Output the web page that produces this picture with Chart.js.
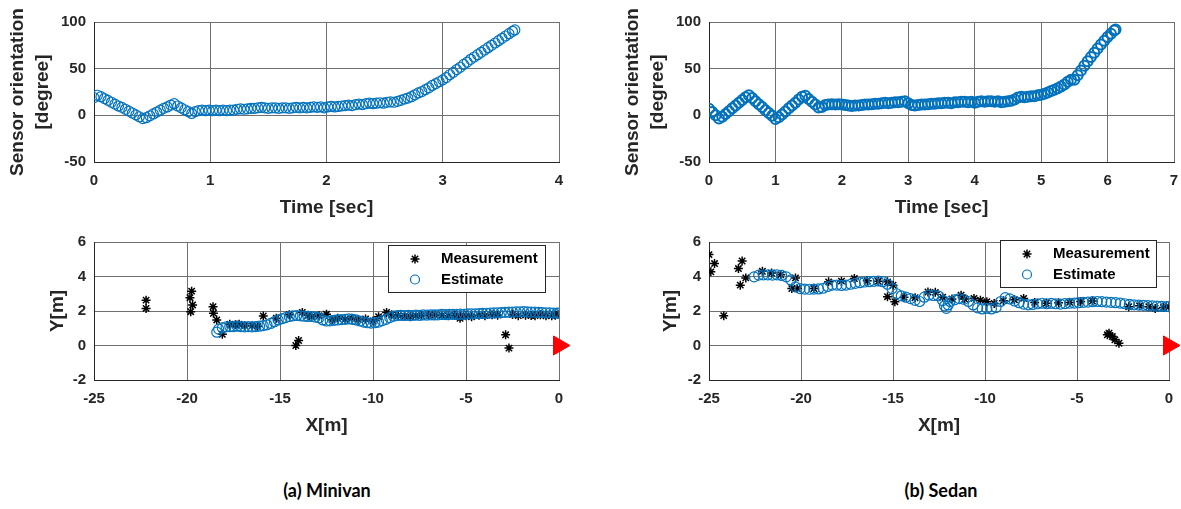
<!DOCTYPE html>
<html>
<head>
<meta charset="utf-8">
<script src="https://cdn.jsdelivr.net/npm/chart.js@4.4.0/dist/chart.umd.min.js"></script>
<style>
  body { margin: 0; background: #fff; width: 1181px; height: 509px; position: relative; overflow: hidden; }
  canvas { position: absolute; }
  .caption { position: absolute; top: 479px; width: 240px; text-align: center; font: bold 18px Lato, sans-serif; color: #000; }
</style>
</head>
<body>
<canvas id="minivanOrientChart" width="590" height="230" style="left:0;top:0"></canvas>
<canvas id="sedanOrientChart" width="566" height="230" style="left:615px;top:0"></canvas>
<canvas id="minivanPathChart" width="590" height="215" style="left:0;top:230px"></canvas>
<canvas id="sedanPathChart" width="566" height="215" style="left:615px;top:230px"></canvas>
<div class="caption" style="left:207px">(a) Minivan</div>
<div class="caption" style="left:821px">(b) Sedan</div>
<script>
// ---- data ----

// (a) minivan, sensor orientation over time
const minivanTime = [0,0.03,0.06,0.09,0.12,0.15,0.18,0.21,0.24,0.27,0.30,0.33,0.36,0.39,0.42,0.45,0.48,0.51,0.54,0.57,0.60,0.63,0.66,0.69,
  0.72,0.75,0.78,0.81,0.84,0.87,0.90,0.93,0.96,0.99,1.02,1.05,1.08,1.11,1.14,1.17,1.20,1.23,1.26,1.29,1.32,1.35,1.38,1.41,1.44,1.47,
  1.50,1.53,1.56,1.59,1.62,1.65,1.68,1.71,1.74,1.77,1.80,1.83,1.86,1.89,1.92,1.95,1.98,2.01,2.04,2.07,2.10,2.13,2.16,2.19,2.22,2.25,
  2.28,2.31,2.34,2.37,2.40,2.43,2.46,2.49,2.52,2.55,2.58,2.61,2.64,2.67,2.70,2.73,2.76,2.79,2.82,2.85,2.88,2.91,2.94,2.97,3.00,3.03,
  3.06,3.09,3.12,3.15,3.18,3.21,3.24,3.27,3.30,3.33,3.36,3.39,3.42,3.45,3.48,3.51,3.54,3.57,3.60,3.62]
const minivanOrient = [19,21.5,20,18,16,14,12,10,8.5,6.5,4.5,2.5,0.5,-1.5,-3.5,-2.5,-0.5,1.5,3.5,5.5,7.5,9,11,12.5,
  10,8,6,4,2,4,5,5.5,5,5.5,5,5.5,5,5.5,5,5.5,5.5,6.5,7,6.5,7,7.5,7.5,8,8.5,8,
  7.5,8,8,7.5,8,8,7.5,8,8.5,8,8.5,8,8.5,9,8.5,9,8,9,9.5,9,9.5,10,10.5,11,10.5,11.5,
  12,11.5,12.5,13,12.5,13,13.5,13,14,14.5,14,15,16,17.5,18.5,20,22,24,25.5,27.5,29.5,32,34,36,38,40.5,
  43.5,46,49,51.5,54.5,57,60,62.5,65,67.5,70,72.5,75,77.5,80,82.5,85,87.5,90,91.5]

// (b) sedan, sensor orientation over time
const sedanTime = [0,0.05,0.10,0.15,0.20,0.25,0.30,0.35,0.40,0.45,0.50,0.55,0.60,0.65,0.70,0.75,0.80,0.85,0.90,0.95,
  1.00,1.05,1.10,1.15,1.20,1.25,1.30,1.35,1.40,1.45,1.50,1.55,1.60,1.65,1.70,1.75,1.80,1.85,1.90,1.95,
  2.00,2.05,2.10,2.15,2.20,2.25,2.30,2.35,2.40,2.45,2.50,2.55,2.60,2.65,2.70,2.75,2.80,2.85,2.90,2.95,
  3.00,3.05,3.10,3.15,3.20,3.25,3.30,3.35,3.40,3.45,3.50,3.55,3.60,3.65,3.70,3.75,3.80,3.85,3.90,3.95,
  4.00,4.05,4.10,4.15,4.20,4.25,4.30,4.35,4.40,4.45,4.50,4.55,4.60,4.65,4.70,4.75,4.80,4.85,4.90,4.95,
  5.00,5.05,5.10,5.15,5.20,5.25,5.30,5.35,5.40,5.45,5.50,5.55,5.60,5.65,5.70,5.75,5.80,5.85,5.90,5.95,
  6.00,6.05,6.10,6.12]
const sedanOrient = [7,3.5,0,-3.5,-1.5,1.5,4.5,7.5,10.5,13.5,16.5,19.5,21.5,18.5,15,12,9,5.5,2.5,-0.5,
  -4,-2,1,4,7.5,10.5,13.5,17,20,21,17.5,14.5,11.5,8.5,9,11,11.5,12,11.5,12,
  11.5,11,10.5,10,10.5,10.5,11,11.5,11.5,12,12.5,12.5,13,13.5,13,13.5,14,14,14.5,15,
  13,11,10.5,11,11.5,11.5,12,12.5,12.5,13,13,13.5,13.5,13,14,14,14.5,14.5,14,14.5,
  13.5,14.5,15,14.5,15,15,14.5,15,14,14.5,15,15.5,17,19,20,19.5,20,20.5,20.5,21.5,
  22,23,24.5,26,27.5,29,31,33,36,38,38,43,48,53,58,62.5,67,71.5,76,80,
  84,87.5,91,92]

// (a) minivan, top view path
const minivanEstX = [-18.4,-18.3,-18.1,-17.9,-17.7,-17.5,-17.3,-17.1,-16.9,-16.7,-16.5,-16.3,-16.1,-15.9,-15.7,-15.5,-15.3,-15.1,
  -14.9,-14.7,-14.5,-14.3,-14.1,-13.9,-13.7,-13.5,-13.3,-13.1,-12.9,-12.7,-12.5,-12.3,-12.1,-11.9,-11.7,-11.5,-11.3,-11.1,
  -10.9,-10.7,-10.5,-10.3,-10.1,-9.9,-9.7,-9.5,-9.3,-9.1,-8.9,-8.7,-8.5,-8.3,-8.1,-7.9,-7.7,-7.5,-7.3,-7.1,
  -6.9,-6.7,-6.5,-6.3,-6.1,-5.9,-5.7,-5.5,-5.3,-5.1,-4.9,-4.7,-4.5,-4.3,-4.1,-3.9,-3.7,-3.5,-3.3,-3.1,
  -2.9,-2.7,-2.5,-2.3,-2.1,-1.9,-1.7,-1.5,-1.3,-1.1,-0.9,-0.7,-0.5,-0.3,-0.1,0]
const minivanEstY = [0.77,0.95,1.02,1.08,1.1,1.1,1.12,1.1,1.08,1.1,1.08,1.1,1.12,1.15,1.2,1.28,1.38,1.48,
  1.55,1.62,1.68,1.72,1.74,1.72,1.7,1.68,1.68,1.65,1.6,1.48,1.42,1.43,1.46,1.48,1.5,1.52,1.54,1.52,
  1.48,1.42,1.36,1.32,1.3,1.32,1.36,1.44,1.52,1.62,1.7,1.74,1.75,1.74,1.75,1.74,1.76,1.75,1.77,1.76,
  1.78,1.77,1.78,1.8,1.79,1.8,1.81,1.8,1.82,1.81,1.83,1.84,1.84,1.85,1.86,1.87,1.88,1.89,1.9,1.91,
  1.92,1.93,1.94,1.95,1.95,1.96,1.95,1.94,1.93,1.92,1.91,1.9,1.89,1.88,1.88,1.87]
const minivanMeasX = [-22.2,-22.2,-19.75,-19.84,-19.7,-19.8,-18.6,-18.58,-18.4,-18.1,-17.7,-17.4,-17.2,-16.9,-16.5,-16.2,
  -15.9,-15.2,-14.5,-14.15,-14.0,-13.8,-13.5,-13.3,-12.9,-12.5,-12.2,-11.9,-11.5,-11.15,-10.8,-10.4,-10.0,-9.7,
  -9.27,-9.0,-8.64,-8.3,-8.0,-7.7,-7.4,-7.0,-6.67,-6.3,-5.95,-5.6,-5.32,-5.3,-5.0,-4.7,-4.3,-3.98,-3.6,-3.3,
  -2.87,-2.69,-2.5,-2.19,-1.8,-1.5,-1.29,-1.0,-0.7,-0.39,-0.2,0]
const minivanMeasY = [2.63,2.15,3.15,2.77,2.35,1.96,2.25,1.87,1.48,0.65,1.23,1.2,1.23,1.15,1.15,1.12,
  1.71,1.58,1.78,0,0.29,1.92,1.75,1.67,1.72,1.81,1.5,1.58,1.52,1.58,1.5,1.54,1.42,1.67,
  1.92,1.78,1.73,1.7,1.67,1.72,1.73,1.75,1.77,1.74,1.73,1.76,1.58,1.7,1.72,1.67,1.75,1.73,1.78,1.76,
  0.62,-0.15,1.8,1.73,1.76,1.74,1.73,1.78,1.72,1.73,1.76,1.81]

// (b) sedan, top view path
const sedanEstX = [-22.55,-22.3,-22.05,-21.8,-21.55,-21.3,-21.05,-20.8,-20.55,-20.3,-20.05,-19.8,-19.55,-19.3,-19.05,-18.8,
  -18.55,-18.3,-18.05,-17.8,-17.55,-17.3,-17.05,-16.8,-16.55,-16.3,-16.05,-15.8,-15.55,-15.3,-15.05,-14.8,
  -14.55,-14.3,-14.05,-13.8,-13.55,-13.3,-13.05,-12.8,-12.55,-12.3,-12.2,-12.1,-12.0,-11.9,-11.65,-11.4,
  -11.15,-10.9,-10.65,-10.4,-10.15,-9.9,-9.65,-9.4,-9.15,-8.9,-8.65,-8.4,-8.15,-7.9,-7.65,-7.4,
  -7.15,-6.9,-6.65,-6.4,-6.15,-5.9,-5.65,-5.4,-5.15,-4.9,-4.65,-4.4,-4.15,-3.9,-3.65,-3.4,
  -3.15,-2.9,-2.65,-2.4,-2.15,-1.9,-1.65,-1.4,-1.15,-0.9,-0.65,-0.4,-0.15,0]
const sedanEstY = [3.98,4.08,4.1,4.1,4.08,4.1,4.06,3.98,3.8,3.4,3.3,3.27,3.26,3.27,3.28,3.32,
  3.42,3.5,3.5,3.48,3.5,3.55,3.6,3.64,3.68,3.7,3.72,3.74,3.7,3.55,3.3,3.0,
  2.88,2.8,2.72,2.62,2.55,2.8,2.92,2.9,2.88,2.6,2.3,2.15,2.35,2.55,2.65,2.72,
  2.68,2.55,2.35,2.18,2.12,2.15,2.12,2.2,2.55,2.77,2.7,2.58,2.48,2.4,2.36,2.38,
  2.42,2.45,2.42,2.44,2.42,2.4,2.43,2.45,2.46,2.48,2.5,2.52,2.54,2.55,2.54,2.52,
  2.5,2.48,2.46,2.42,2.38,2.36,2.34,2.33,2.31,2.3,2.28,2.27,2.26,2.25]
const sedanMeasX = [-25.0,-24.7,-24.9,-24.2,-23.4,-23.2,-23.3,-23.0,-22.1,-21.6,-21.1,-20.3,-20.5,-20.2,-19.3,-18.5,
  -17.8,-17.1,-16.4,-15.8,-15.3,-15.0,-15.3,-14.9,-14.4,-13.8,-13.1,-12.7,-12.3,-11.8,-11.3,-11.1,
  -10.6,-10.25,-9.9,-9.5,-9.0,-8.4,-7.9,-7.3,-6.67,-6.0,-5.4,-4.8,-4.16,-3.35,-3.26,-3.08,
  -2.94,-2.72,-2.19,-1.6,-1.1,-0.75,-0.3,0]
const sedanMeasY = [5.27,4.75,4.27,1.73,4.46,4.9,3.5,3.92,4.3,4.2,4.1,3.92,3.3,3.3,3.3,3.69,
  3.73,3.88,3.75,3.72,3.69,3.5,2.83,2.54,2.8,2.77,3.1,3.08,2.8,2.7,2.92,2.69,
  2.73,2.63,2.54,2.44,2.6,2.65,2.73,2.5,2.45,2.48,2.5,2.55,2.58,0.62,0.71,0.52,
  0.33,0.13,2.25,2.3,2.25,2.15,2.2,2.25]

// sensor position (red marker)
const sensorX = [0]
const sensorY = [0]

// tick labels
const orientTicks = [-50, 0, 50, 100]
const minivanTimeTicks = [0, 1, 2, 3, 4]
const sedanTimeTicks = [0, 1, 2, 3, 4, 5, 6, 7]
const pathXTicks = [-25, -20, -15, -10, -5, 0]
const pathYTicks = [-2, 0, 2, 4, 6]

// ---- drawing ----
const BLUE = "#0072BD"
const TXT = "#262626"

Chart.defaults.font.family = "'Liberation Sans', Arial, sans-serif"
Chart.defaults.font.size = 15
Chart.defaults.font.weight = "bold"
Chart.defaults.color = TXT

const pts = (xs, ys) => xs.map((x, i) => ({ x: x, y: ys[i] }))

// MATLAB style legend box drawn inside the axes
const boxLegend = {
    id: "boxLegend",
    afterDatasetsDraw(chart, args, opts) {
        if (!opts.show) return
        const ctx = chart.ctx
        const area = chart.chartArea
        const x0 = Math.round(area.right - opts.right - opts.width)
        const y0 = Math.round(area.top + opts.top)
        ctx.save()
        ctx.fillStyle = "#fff"
        ctx.fillRect(x0, y0, opts.width, opts.height)
        ctx.strokeStyle = TXT
        ctx.lineWidth = 1
        ctx.strokeRect(x0 + 0.5, y0 + 0.5, opts.width, opts.height)

        // measurement: star
        let cy = y0 + 14
        let cx = x0 + 27
        const r = 4.5
        ctx.strokeStyle = "#000"
        ctx.lineWidth = 1.5
        ctx.beginPath()
        ctx.moveTo(cx - r, cy); ctx.lineTo(cx + r, cy)
        ctx.moveTo(cx, cy - r); ctx.lineTo(cx, cy + r)
        const d = r * Math.SQRT1_2
        ctx.moveTo(cx - d, cy - d); ctx.lineTo(cx + d, cy + d)
        ctx.moveTo(cx - d, cy + d); ctx.lineTo(cx + d, cy - d)
        ctx.stroke()
        // estimate: open circle
        cy = y0 + 34.5
        ctx.strokeStyle = BLUE
        ctx.lineWidth = 1.2
        ctx.beginPath()
        ctx.arc(cx, cy, r, 0, Math.PI * 2)
        ctx.stroke()

        ctx.fillStyle = "#000"
        ctx.font = "bold 15px 'Liberation Sans', Arial, sans-serif"
        ctx.textBaseline = "middle"
        ctx.fillText("Measurement", x0 + 53, y0 + 14)
        ctx.fillText("Estimate", x0 + 53, y0 + 34.5)
        ctx.restore()
    }
}

function axisChart(id, cfg) {
    return new Chart(document.getElementById(id), {
        type: "scatter",
        data: { datasets: cfg.datasets },
        options: {
            responsive: false,
            animation: false,
            events: [],
            layout: { padding: cfg.padding },
            plugins: {
                legend: { display: false },
                tooltip: { enabled: false },
                boxLegend: cfg.legend || { show: false }
            },
            scales: {
                x: {
                    type: "linear",
                    min: cfg.xTicks[0],
                    max: cfg.xTicks[cfg.xTicks.length - 1],
                    afterBuildTicks: s => { s.ticks = cfg.xTicks.map(v => ({ value: v })) },
                    afterFit: s => { s.height = cfg.xHeight; s.paddingLeft = 0; s.paddingRight = 0 },
                    ticks: { padding: 10, color: TXT, maxRotation: 0 },
                    grid: { color: "#707070", lineWidth: 1, drawTicks: false },
                    border: { color: TXT, width: 1 },
                    title: { display: true, text: cfg.xTitle, color: TXT,
                        font: { size: 19, weight: "bold" }, padding: { top: 0, bottom: cfg.xTitlePad } }
                },
                y: {
                    type: "linear",
                    min: cfg.yTicks[0],
                    max: cfg.yTicks[cfg.yTicks.length - 1],
                    afterBuildTicks: s => { s.ticks = cfg.yTicks.map(v => ({ value: v })) },
                    afterFit: s => { s.width = 94; s.paddingTop = 0; s.paddingBottom = 0 },
                    ticks: { padding: 8, color: TXT },
                    grid: { color: "#707070", lineWidth: 1, drawTicks: false },
                    border: { color: TXT, width: 1 },
                    title: { display: true, text: cfg.yTitle, color: TXT,
                        font: { size: 19, weight: "bold", lineHeight: 1.28 }, padding: { top: cfg.yTitlePad, bottom: 0 } }
                }
            }
        },
        plugins: [boxLegend]
    })
}

function orientSet(xs, ys, lw) {
    return {
        label: "Estimate",
        data: pts(xs, ys),
        pointStyle: "circle",
        pointRadius: 5,
        pointBorderWidth: lw,
        pointBorderColor: BLUE,
        pointBackgroundColor: "rgba(0,0,0,0)"
    }
}

function pathSets(estX, estY, measX, measY) {
    return [
        {
            label: "Sensor",
            data: pts(sensorX, sensorY),
            pointStyle: "triangle",
            rotation: 90,
            pointRadius: 11,
            pointBackgroundColor: "#ff0000",
            pointBorderColor: "#ff0000",
            pointBorderWidth: 1,
            clip: false,
            order: 0
        },
        Object.assign(orientSet(estX, estY, 1.2), { order: 1 }),
        {
            label: "Measurement",
            data: pts(measX, measY),
            pointStyle: "star",
            pointRadius: 4.5,
            pointBorderWidth: 1.5,
            pointBorderColor: "#000",
            order: 2
        }
    ]
}

// top left
axisChart("minivanOrientChart", {
    datasets: [orientSet(minivanTime, minivanOrient, 1.2)],
    padding: { top: 22, right: 31, bottom: 0, left: 0 },
    xTicks: minivanTimeTicks, yTicks: orientTicks,
    xHeight: 68, xTitle: "Time [sec]", xTitlePad: 11,
    yTitle: ["Sensor orientation", "[degree]"], yTitlePad: 6
})

// top right (denser samples, looks like a solid band)
axisChart("sedanOrientChart", {
    datasets: [orientSet(sedanTime, sedanOrient, 2)],
    padding: { top: 22, right: 7, bottom: 0, left: 0 },
    xTicks: sedanTimeTicks, yTicks: orientTicks,
    xHeight: 68, xTitle: "Time [sec]", xTitlePad: 11,
    yTitle: ["Sensor orientation", "[degree]"], yTitlePad: 6
})

// bottom left
axisChart("minivanPathChart", {
    datasets: pathSets(minivanEstX, minivanEstY, minivanMeasX, minivanMeasY),
    padding: { top: 11, right: 31, bottom: 0, left: 0 },
    xTicks: pathXTicks, yTicks: pathYTicks,
    xHeight: 65, xTitle: "X[m]", xTitlePad: 8,
    yTitle: "Y[m]", yTitlePad: 46,
    legend: { show: true, right: 14, top: 3, width: 157, height: 47 }
})

// bottom right
axisChart("sedanPathChart", {
    datasets: pathSets(sedanEstX, sedanEstY, sedanMeasX, sedanMeasY),
    padding: { top: 11, right: 7, bottom: 0, left: 0 },
    xTicks: pathXTicks, yTicks: pathYTicks,
    xHeight: 65, xTitle: "X[m]", xTitlePad: 8,
    yTitle: "Y[m]", yTitlePad: 44,
    legend: { show: true, right: 13, top: -2, width: 156, height: 47 }
})
</script>
</body>
</html>
